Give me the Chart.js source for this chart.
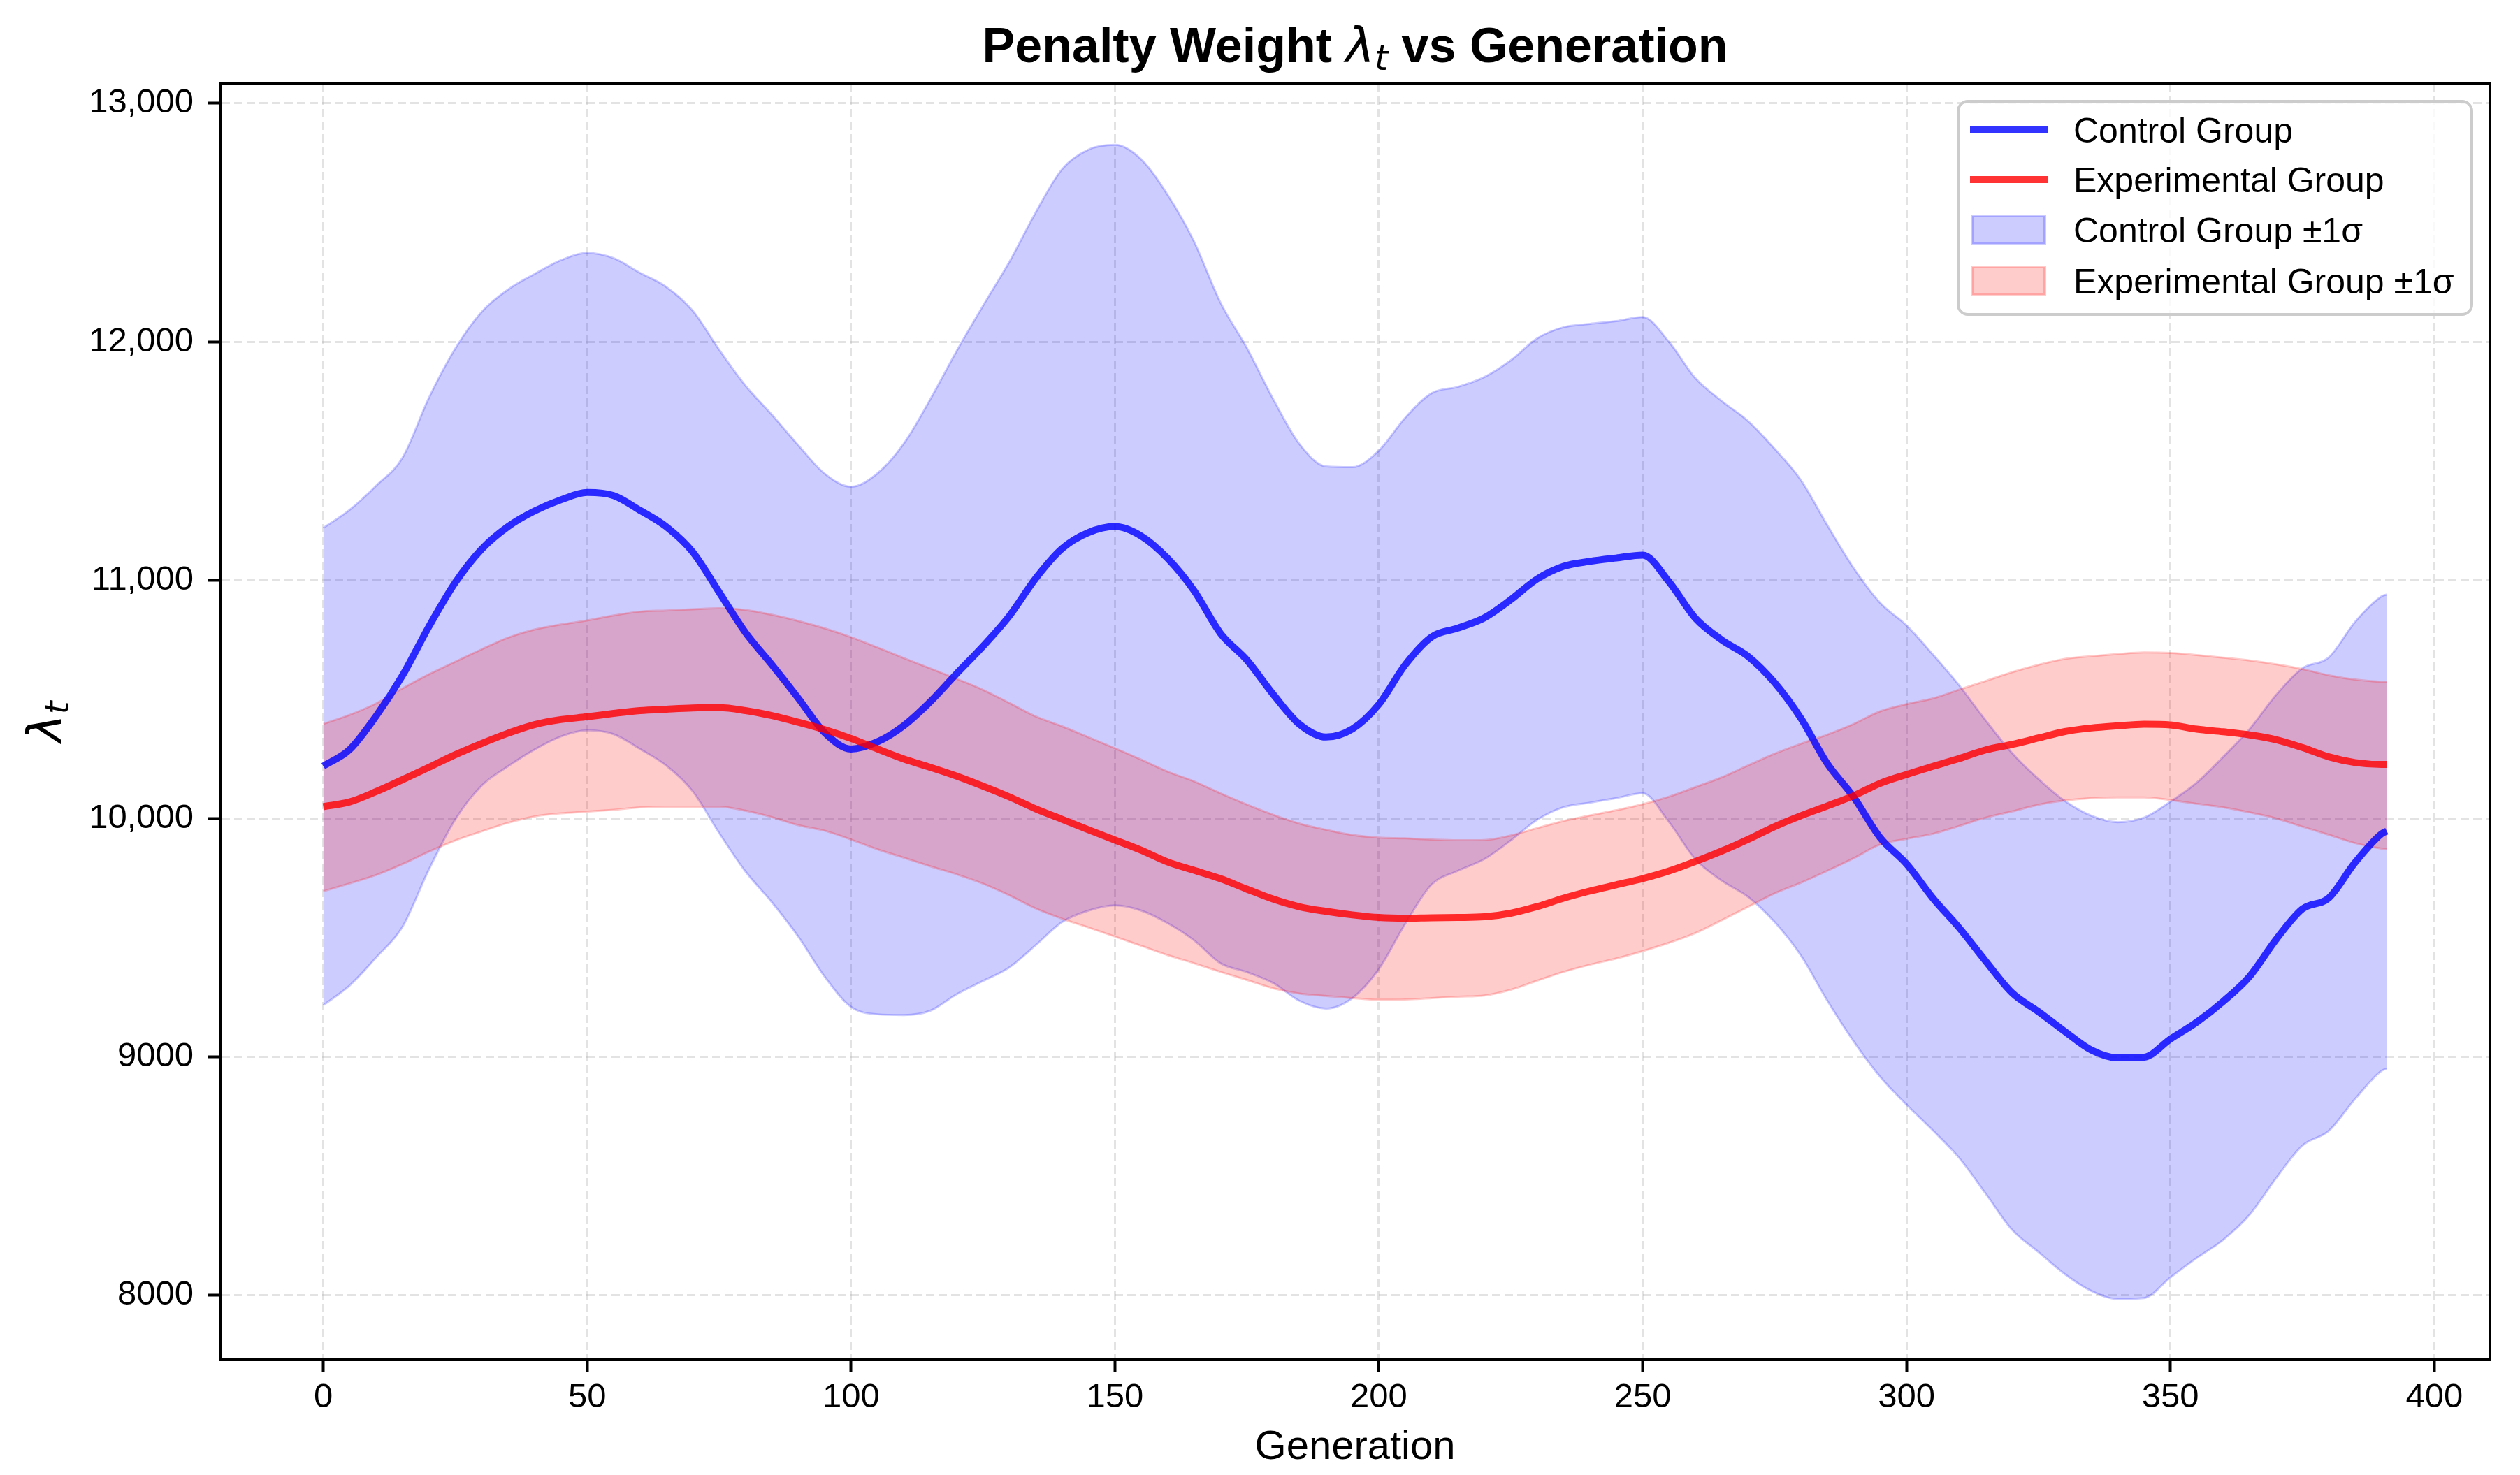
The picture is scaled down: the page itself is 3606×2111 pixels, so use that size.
<!DOCTYPE html>
<html>
<head>
<meta charset="utf-8">
<script src="https://cdn.jsdelivr.net/npm/chart.js@4.4.1/dist/chart.umd.min.js"></script>
<style>
  html, body { margin: 0; padding: 0; background: #ffffff; }
  canvas { display: block; }
</style>
</head>
<body>
<canvas id="graficoPenalty" width="3606" height="2111" style="width:3606px;height:2111px"></canvas>
<script>
// Generaciones (eje x) y valores
const generations = [0, 5, 10, 15, 20, 25, 30, 35, 40, 45, 50, 55, 60, 65, 70, 75, 80, 85, 90, 95,
  100, 105, 110, 115, 120, 125, 130, 135, 140, 145, 150, 155, 160, 165, 170, 175, 180, 185, 190, 195,
  200, 205, 210, 215, 220, 225, 230, 235, 240, 245, 250, 255, 260, 265, 270, 275, 280, 285, 290, 295,
  300, 305, 310, 315, 320, 325, 330, 335, 340, 345, 350, 355, 360, 365, 370, 375, 380, 385, 390, 391];

const controlMean = [10220, 10290, 10430, 10600, 10805, 10990, 11130, 11225, 11290, 11337, 11368, 11355, 11293, 11224, 11118, 10950, 10780, 10645, 10505, 10360,
  10292, 10322, 10390, 10490, 10608, 10723, 10850, 11008, 11133, 11200, 11225, 11185, 11091, 10956, 10777, 10665, 10521, 10395, 10342, 10376,
  10479, 10645, 10762, 10799, 10842, 10918, 11005, 11058, 11079, 11093, 11105, 10993, 10840, 10749, 10680, 10570, 10420, 10230, 10090, 9920,
  9810, 9666, 9541, 9402, 9269, 9190, 9107, 9029, 8996, 8999, 9075, 9146, 9233, 9338, 9492, 9621, 9667, 9816, 9936, 9947];

const controlUpper = [11219, 11295, 11396, 11513, 11764, 11971, 12125, 12219, 12284, 12342, 12373, 12351, 12289, 12230, 12130, 11967, 11816, 11694, 11566, 11447,
  11392, 11448, 11573, 11758, 11961, 12151, 12335, 12543, 12724, 12806, 12826, 12765, 12616, 12420, 12164, 11974, 11759, 11570, 11477, 11474,
  11543, 11681, 11784, 11811, 11852, 11922, 12014, 12061, 12075, 12087, 12104, 11999, 11847, 11751, 11667, 11551, 11419, 11230, 11050, 10905,
  10810, 10688, 10558, 10412, 10275, 10166, 10074, 10012, 9985, 10004, 10071, 10151, 10259, 10375, 10518, 10630, 10676, 10825, 10932, 10940];

const controlLower = [9217, 9300, 9417, 9546, 9786, 9996, 10138, 10219, 10289, 10344, 10370, 10354, 10292, 10222, 10114, 9940, 9778, 9649, 9505, 9337,
  9210, 9179, 9176, 9194, 9263, 9319, 9376, 9469, 9566, 9614, 9636, 9614, 9561, 9489, 9393, 9356, 9310, 9235, 9203, 9247,
  9368, 9558, 9723, 9781, 9830, 9908, 9995, 10048, 10067, 10086, 10106, 9985, 9829, 9739, 9671, 9566, 9425, 9236, 9065, 8917,
  8800, 8692, 8576, 8427, 8275, 8182, 8089, 8019, 7985, 7989, 8075, 8157, 8233, 8338, 8491, 8628, 8690, 8824, 8942, 8951];

const expMean = [10050, 10070, 10113, 10163, 10215, 10268, 10315, 10358, 10394, 10415, 10427, 10441, 10453, 10459, 10464, 10465, 10453, 10432, 10404, 10373,
  10336, 10292, 10250, 10215, 10178, 10136, 10091, 10041, 9997, 9953, 9910, 9867, 9818, 9783, 9748, 9704, 9662, 9630, 9611, 9596,
  9585, 9582, 9584, 9585, 9588, 9603, 9631, 9666, 9696, 9722, 9748, 9780, 9820, 9864, 9913, 9966, 10012, 10053, 10096, 10148,
  10185, 10219, 10252, 10288, 10311, 10338, 10365, 10380, 10389, 10396, 10393, 10375, 10364, 10351, 10331, 10298, 10259, 10235, 10227, 10227];

const expUpper = [10397, 10435, 10483, 10546, 10605, 10658, 10710, 10759, 10793, 10814, 10831, 10852, 10868, 10873, 10878, 10882, 10875, 10855, 10829, 10798,
  10761, 10718, 10673, 10630, 10586, 10540, 10485, 10428, 10387, 10341, 10295, 10247, 10197, 10156, 10106, 10059, 10016, 9979, 9953, 9931,
  9920, 9917, 9912, 9909, 9910, 9929, 9960, 9990, 10013, 10035, 10060, 10092, 10132, 10173, 10223, 10272, 10314, 10352, 10397, 10450,
  10480, 10504, 10541, 10577, 10614, 10645, 10670, 10681, 10690, 10697, 10695, 10686, 10675, 10663, 10647, 10627, 10601, 10583, 10574, 10574];

const expLower = [9695, 9728, 9763, 9809, 9861, 9908, 9946, 9982, 10009, 10022, 10029, 10037, 10047, 10050, 10050, 10050, 10033, 10006, 9972, 9949,
  9912, 9871, 9836, 9800, 9766, 9727, 9678, 9623, 9580, 9543, 9505, 9466, 9427, 9393, 9357, 9323, 9288, 9266, 9256, 9247,
  9240, 9241, 9247, 9253, 9258, 9282, 9320, 9357, 9387, 9413, 9444, 9479, 9520, 9574, 9630, 9686, 9731, 9781, 9834, 9891,
  9915, 9936, 9969, 10004, 10030, 10058, 10076, 10086, 10089, 10089, 10078, 10062, 10047, 10026, 10001, 9966, 9932, 9897, 9874, 9872];

// marcas de los ejes
const xTicks = [0, 50, 100, 150, 200, 250, 300, 350, 400];
const yTicks = [8000, 9000, 10000, 11000, 12000, 13000];

const SANS = "'Liberation Sans', Arial, sans-serif";
const MATH = "'DejaVu Sans', sans-serif";

const toPoints = ys => generations.map((g, i) => ({ x: g, y: ys[i] }));

// dibuja un texto con partes (normal / λ / subíndice) centrado en x=0
function drawParts(ctx, parts) {
  let total = 0;
  parts.forEach(p => { ctx.font = p.font; p.w = ctx.measureText(p.text).width; total += p.w; });
  let x = -total / 2;
  parts.forEach(p => {
    ctx.font = p.font;
    ctx.fillText(p.text, x, p.dy || 0);
    x += p.w;
  });
}

const decoracion = {
  id: 'decoracion',
  afterDraw(chart) {
    const { ctx, chartArea: a } = chart;
    ctx.save();

    // marco completo (como los spines de matplotlib)
    ctx.strokeStyle = '#000';
    ctx.lineWidth = 4;
    ctx.strokeRect(a.left, a.top, a.right - a.left, a.bottom - a.top);

    ctx.fillStyle = '#000';
    ctx.textAlign = 'left';
    ctx.textBaseline = 'alphabetic';

    // título
    ctx.save();
    ctx.translate((a.left + a.right) / 2, 89);
    drawParts(ctx, [
      { text: 'Penalty Weight ', font: 'bold 70px ' + SANS },
      { text: 'λ', font: 'italic 70px ' + MATH },
      { text: 't', font: 'italic 49px ' + MATH, dy: 11 },
      { text: ' vs Generation', font: 'bold 70px ' + SANS }
    ]);
    ctx.restore();

    // etiqueta del eje y
    ctx.save();
    ctx.translate(88, (a.top + a.bottom) / 2);
    ctx.rotate(-Math.PI / 2);
    drawParts(ctx, [
      { text: 'λ', font: 'italic 68px ' + MATH },
      { text: 't', font: 'italic 48px ' + MATH, dy: 10 }
    ]);
    ctx.restore();

    // leyenda
    const lx = 2802, ly = 145, lw = 735, lh = 305;
    ctx.fillStyle = 'rgba(255,255,255,0.8)';
    ctx.strokeStyle = '#cccccc';
    ctx.lineWidth = 4;
    ctx.beginPath();
    ctx.roundRect(lx, ly, lw, lh, 14);
    ctx.fill();
    ctx.stroke();

    const ds = chart.data.datasets;
    const items = [
      { d: ds[0], kind: 'line' },
      { d: ds[1], kind: 'line' },
      { d: ds[2], kind: 'box' },
      { d: ds[4], kind: 'box' }
    ];
    const rows = [186, 257, 329, 402];
    items.forEach((it, i) => {
      const cy = rows[i];
      if (it.kind === 'line') {
        ctx.strokeStyle = it.d.borderColor;
        ctx.lineWidth = 10;
        ctx.beginPath();
        ctx.moveTo(2819, cy);
        ctx.lineTo(2930, cy);
        ctx.stroke();
      } else {
        ctx.fillStyle = it.d.backgroundColor;
        ctx.fillRect(2822, cy - 20, 104, 40);
        ctx.strokeStyle = it.d.borderColor;
        ctx.lineWidth = 4;
        ctx.strokeRect(2822, cy - 20, 104, 40);
      }
      ctx.fillStyle = '#000';
      ctx.font = '50px ' + SANS;
      ctx.fillText(it.d.label, 2967, cy + 18);
    });

    ctx.restore();
  }
};

const gridColor = 'rgba(176,176,176,0.35)';

new Chart(document.getElementById('graficoPenalty'), {
  type: 'line',
  data: {
    datasets: [
      { label: 'Control Group', data: toPoints(controlMean), borderColor: 'rgba(0,0,255,0.8)',
        borderWidth: 10, pointRadius: 0, fill: false, cubicInterpolationMode: 'monotone', order: 1 },
      { label: 'Experimental Group', data: toPoints(expMean), borderColor: 'rgba(255,0,0,0.8)',
        borderWidth: 10, pointRadius: 0, fill: false, cubicInterpolationMode: 'monotone', order: 0 },
      { label: 'Control Group ±1σ', data: toPoints(controlUpper), borderColor: 'rgba(0,0,255,0.2)',
        backgroundColor: 'rgba(0,0,255,0.2)', borderWidth: 3, pointRadius: 0, fill: '+1',
        cubicInterpolationMode: 'monotone', order: 3 },
      { label: 'Control lower', data: toPoints(controlLower), borderColor: 'rgba(0,0,255,0.2)',
        borderWidth: 3, pointRadius: 0, fill: false, cubicInterpolationMode: 'monotone', order: 3 },
      { label: 'Experimental Group ±1σ', data: toPoints(expUpper), borderColor: 'rgba(255,0,0,0.2)',
        backgroundColor: 'rgba(255,0,0,0.2)', borderWidth: 3, pointRadius: 0, fill: '+1',
        cubicInterpolationMode: 'monotone', order: 2 },
      { label: 'Experimental lower', data: toPoints(expLower), borderColor: 'rgba(255,0,0,0.2)',
        borderWidth: 3, pointRadius: 0, fill: false, cubicInterpolationMode: 'monotone', order: 2 }
    ]
  },
  options: {
    responsive: false,
    animation: false,
    devicePixelRatio: 1,
    events: [],
    layout: { padding: { left: 0, right: 43, top: 120, bottom: 0 } },
    font: { family: SANS },
    plugins: {
      legend: { display: false },
      title: { display: false },
      tooltip: { enabled: false }
    },
    scales: {
      x: {
        type: 'linear',
        min: -19.55,
        max: 410.55,
        afterBuildTicks: s => { s.ticks = xTicks.map(v => ({ value: v })); },
        ticks: { autoSkip: false, maxRotation: 0, color: '#000', padding: 8,
          font: { family: SANS, size: 49 } },
        grid: { color: gridColor, lineWidth: 3, tickColor: '#000', tickWidth: 4, tickLength: 17, tickBorderDash: [] },
        border: { display: true, color: '#000', width: 4, dash: [12, 6] },
        title: { display: true, text: 'Generation', color: '#000',
          font: { family: SANS, size: 58 }, padding: { top: 0, bottom: 4 } },
        afterFit: s => { s.height = 165; }
      },
      y: {
        type: 'linear',
        min: 7730,
        max: 13082,
        afterBuildTicks: s => { s.ticks = yTicks.map(v => ({ value: v })); },
        ticks: { autoSkip: false, color: '#000', padding: 20,
          font: { family: SANS, size: 49 },
          callback: v => v >= 10000 ? v.toLocaleString('en-US') : String(v) },
        grid: { color: gridColor, lineWidth: 3, tickColor: '#000', tickWidth: 4, tickLength: 18, tickBorderDash: [] },
        border: { display: true, color: '#000', width: 4, dash: [12, 6] },
        afterFit: s => { s.width = 315; }
      }
    }
  },
  plugins: [decoracion]
});
</script>
</body>
</html>
